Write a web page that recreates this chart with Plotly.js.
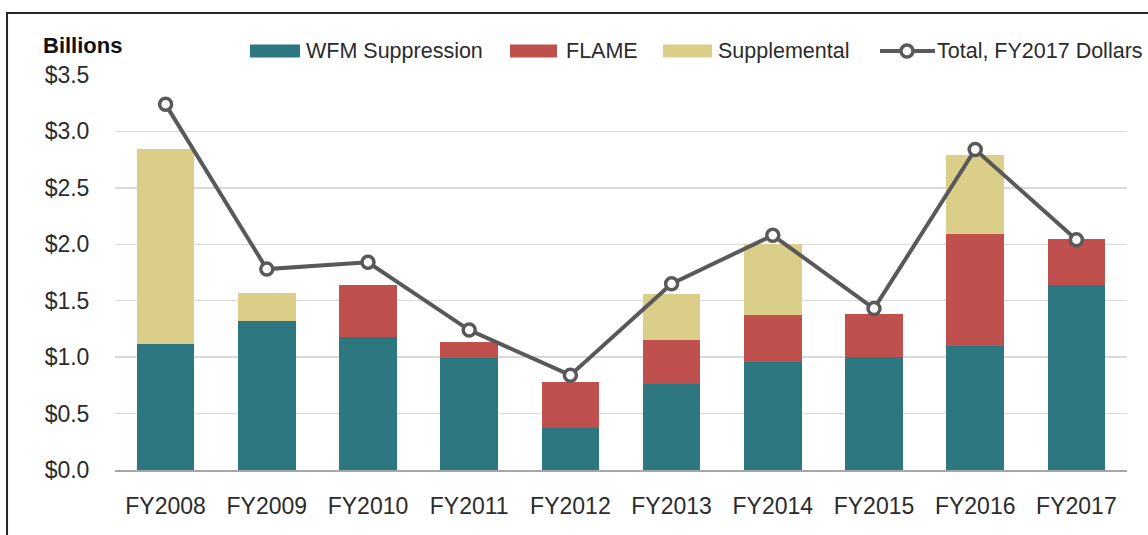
<!DOCTYPE html>
<html>
<head>
<meta charset="utf-8">
<script src="https://cdn.plot.ly/plotly-3.0.1.min.js"></script>
<style>
html,body{margin:0;padding:0;background:#fff;}
#chart{width:1148px;height:535px;}
</style>
</head>
<body>
<div id="chart"></div>
<script>
var categories = ["FY2008","FY2009","FY2010","FY2011","FY2012","FY2013","FY2014","FY2015","FY2016","FY2017"];
var wfmSuppression = [1.12, 1.32, 1.18, 0.99, 0.37, 0.76, 0.96, 1.00, 1.10, 1.64];
var flame = [0, 0, 0.46, 0.14, 0.41, 0.39, 0.41, 0.385, 0.99, 0.41];
var supplemental = [1.72, 0.25, 0, 0, 0, 0.41, 0.63, 0, 0.705, 0];
var totalFY2017 = [3.24, 1.78, 1.84, 1.24, 0.84, 1.65, 2.08, 1.43, 2.84, 2.04];
var yTickVals = [0, 0.5, 1.0, 1.5, 2.0, 2.5, 3.0, 3.5];
var yTickText = ["$0.0","$0.5","$1.0","$1.5","$2.0","$2.5","$3.0","$3.5"];
var seriesNames = ["WFM Suppression", "FLAME", "Supplemental", "Total, FY2017 Dollars"];
var seriesColors = ["#2C7780", "#C0504D", "#DBCE88", "#595959"];

var FONT = "'Liberation Sans', Arial, sans-serif";
var TXT = "#2b2b2b";

var traces = [
  {type:'bar', name:seriesNames[0], x:categories, y:wfmSuppression,
   marker:{color:seriesColors[0], line:{width:0}}},
  {type:'bar', name:seriesNames[1], x:categories, y:flame,
   marker:{color:seriesColors[1], line:{width:0}}},
  {type:'bar', name:seriesNames[2], x:categories, y:supplemental,
   marker:{color:seriesColors[2], line:{width:0}}},
  {type:'scatter', mode:'lines+markers', name:seriesNames[3], x:categories, y:totalFY2017,
   line:{color:seriesColors[3], width:4},
   marker:{symbol:'circle', size:12, color:'#ffffff', line:{color:seriesColors[3], width:3.5}}}
];

// pixel -> paper helpers (plot area: x 115..1127, y 75..470)
function px(x){ return (x-115)/1012; }
function py(y){ return (470-y)/395; }

var legY = 51;
var swatches = [[250,300],[510,557],[663,712]];
var textX = [304, 564, 716, 935];

var shapes = [
  {type:'rect', xref:'paper', yref:'paper', x0:-0.1067, x1:1.05, y0:-0.3, y1:1.157,
   line:{color:'#262626', width:2}, fillcolor:'rgba(0,0,0,0)', layer:'above'}
];
for (var i=0;i<3;i++){
  shapes.push({type:'rect', xref:'paper', yref:'paper', x0:px(swatches[i][0]), x1:px(swatches[i][1]),
    y0:py(legY+6.5), y1:py(legY-6.5), line:{width:0}, fillcolor:seriesColors[i]});
}
shapes.push({type:'line', xref:'paper', yref:'paper', x0:px(880), x1:px(935), y0:py(legY), y1:py(legY),
  line:{color:seriesColors[3], width:4}});
shapes.push({type:'circle', xref:'paper', yref:'paper', x0:px(901), x1:px(913), y0:py(legY+6), y1:py(legY-6),
  line:{color:seriesColors[3], width:3.5}, fillcolor:'#ffffff'});

var annotations = [
  {text:'<b>Billions</b>', xref:'paper', yref:'paper', x:px(41), y:py(45),
   xanchor:'left', yanchor:'middle', showarrow:false,
   font:{family:FONT, size:22, color:'#111111'}}
];
for (var j=0;j<4;j++){
  annotations.push({text:seriesNames[j], xref:'paper', yref:'paper', x:px(textX[j]), y:py(legY),
    xanchor:'left', yanchor:'middle', showarrow:false,
    font:{family:FONT, size:21.5, color:TXT}});
}

var layout = {
  width:1148, height:535,
  paper_bgcolor:'#ffffff', plot_bgcolor:'#ffffff',
  margin:{l:115, r:21, t:75, b:65},
  barmode:'stack', bargap:0.43,
  font:{family:FONT, size:21, color:TXT},
  showlegend:false,
  xaxis:{type:'category', range:[-0.5, 9.5], autorange:false, automargin:false,
         showgrid:false, showline:true, linecolor:'#A6A6A6', linewidth:1.5,
         ticks:'outside', ticklen:15, tickcolor:'rgba(0,0,0,0)',
         tickfont:{family:FONT, size:23, color:TXT}, fixedrange:true},
  yaxis:{range:[0,3.5], autorange:false, automargin:false, tickvals:yTickVals, ticktext:yTickText, showgrid:true,
         gridcolor:'#D9D9D9', gridwidth:1.5, zeroline:false, showline:false,
         ticks:'outside', ticklen:20, tickcolor:'rgba(0,0,0,0)',
         tickfont:{family:FONT, size:23, color:TXT}, fixedrange:true},
  annotations:annotations,
  shapes:shapes
};

Plotly.newPlot('chart', traces, layout, {staticPlot:true, displayModeBar:false});
</script>
</body>
</html>
